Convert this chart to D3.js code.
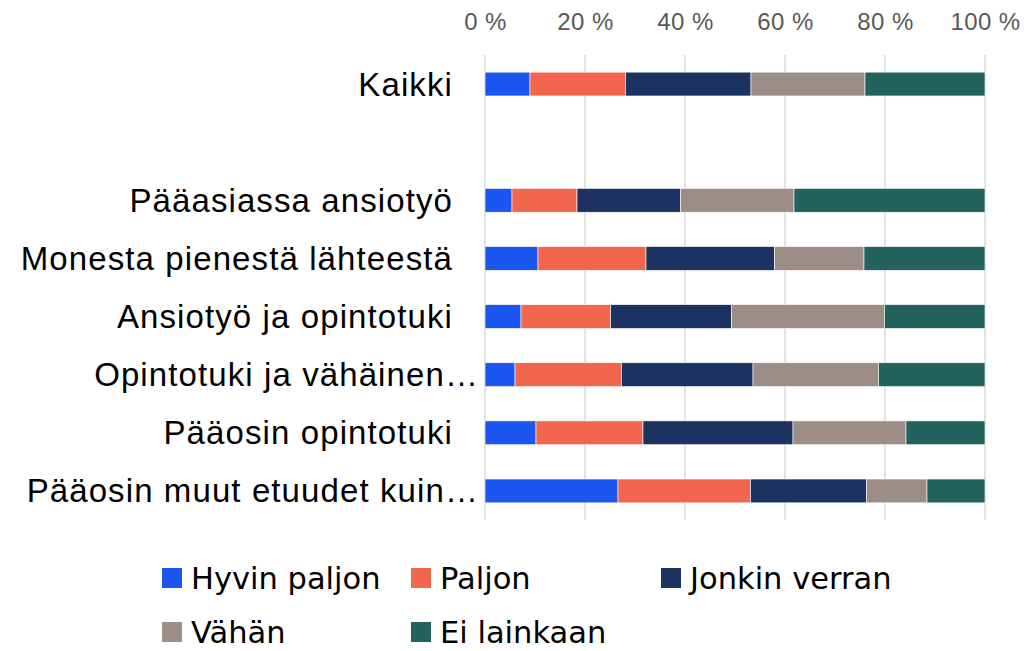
<!DOCTYPE html>
<html>
<head>
<meta charset="utf-8">
<script src="https://cdn.jsdelivr.net/npm/d3@7"></script>
<style>
  body { margin: 0; background: #fff; }
  svg text { font-family: "Liberation Sans", Arial, sans-serif; }
  svg .legend text { font-family: "DejaVu Sans", Verdana, sans-serif; }
</style>
</head>
<body>
<svg id="chart" width="1026" height="651"></svg>
<script>
var categories = [
  "Kaikki",
  "",
  "Pääasiassa ansiotyö",
  "Monesta pienestä lähteestä",
  "Ansiotyö ja opintotuki",
  "Opintotuki ja vähäinen…",
  "Pääosin opintotuki",
  "Pääosin muut etuudet kuin…"
];
var seriesNames = ["Hyvin paljon", "Paljon", "Jonkin verran", "Vähän", "Ei lainkaan"];
var seriesColors = ["#1a56ef", "#f2664d", "#1c3260", "#9c8d86", "#23635d"];

// percentages per category, one array per series (blank row = 0)
var hyvinPaljon  = [9.0, 0, 5.4, 10.6, 7.2, 6.0, 10.2, 26.6];
var paljon       = [19.1, 0, 13.0, 21.6, 17.9, 21.3, 21.4, 26.5];
var jonkinVerran = [25.1, 0, 20.7, 25.7, 24.2, 26.3, 30.0, 23.2];
var vahan        = [22.8, 0, 22.7, 17.9, 30.6, 25.1, 22.6, 12.1];
var eiLainkaan   = [24.0, 0, 38.2, 24.2, 20.1, 21.3, 15.8, 11.6];

var tickValues = [0, 20, 40, 60, 80, 100];

(function () {
  'use strict';

  var seriesData = [hyvinPaljon, paljon, jonkinVerran, vahan, eiLainkaan];

  var rows = categories.map(function (c, i) {
    var row = { key: "r" + i, name: c };
    seriesNames.forEach(function (s, j) { row[s] = seriesData[j][i]; });
    return row;
  });

  var svg = d3.select("#chart");

  var x = d3.scaleLinear().domain([0, 100]).range([485, 985]);
  var y = d3.scaleBand()
    .domain(rows.map(function (d) { return d.key; }))
    .range([55, 520])
    .paddingInner(0.59)
    .paddingOuter(0.295);

  var layers = d3.stack().keys(seriesNames)(rows);

  // gridlines
  svg.append("g")
    .selectAll("line")
    .data(tickValues)
    .enter().append("line")
      .attr("x1", function (d) { return x(d); })
      .attr("x2", function (d) { return x(d); })
      .attr("y1", 55)
      .attr("y2", 520)
      .attr("stroke", "#d9d9d9")
      .attr("stroke-width", 1.5);

  // top tick labels
  var axis = d3.axisTop(x)
    .tickValues(tickValues)
    .tickSize(0)
    .tickPadding(0)
    .tickFormat(function (d) { return d + " %"; });

  var axisG = svg.append("g")
    .attr("transform", "translate(0,30)")
    .call(axis);
  axisG.select(".domain").remove();
  axisG.selectAll("text")
    .attr("fill", "#595959")
    .attr("font-size", 24)
    .attr("letter-spacing", 0.4);

  // bars
  svg.append("g")
    .selectAll("g")
    .data(layers)
    .enter().append("g")
      .attr("fill", function (d, i) { return seriesColors[i]; })
    .selectAll("rect")
    .data(function (d) { return d.filter(function (p) { return p[1] - p[0] > 0; }); })
    .enter().append("rect")
      .attr("x", function (d) { return x(d[0]); })
      .attr("width", function (d) { return x(d[1]) - x(d[0]); })
      .attr("y", function (d) { return y(d.data.key); })
      .attr("height", y.bandwidth())
      .attr("stroke", "#ffffff")
      .attr("stroke-width", 0.6);

  // category labels
  svg.append("g")
    .selectAll("text")
    .data(rows)
    .enter().append("text")
      .attr("x", function (d) { return d.name.slice(-1) === "…" ? 479 : 453; })
      .attr("y", function (d) { return y(d.key) + y.bandwidth() / 2; })
      .attr("dy", "0.35em")
      .attr("text-anchor", "end")
      .attr("font-size", 33)
      .attr("letter-spacing", 1.1)
      .attr("fill", "#000")
      .text(function (d) { return d.name; });

  // legend
  var legendPos = [[162, 578], [411, 578], [661, 578], [162, 632], [411, 632]];
  var legend = svg.append("g")
    .attr("class", "legend")
    .selectAll("g")
    .data(seriesNames)
    .enter().append("g")
      .attr("transform", function (d, i) { return "translate(" + legendPos[i][0] + "," + legendPos[i][1] + ")"; });

  legend.append("rect")
    .attr("x", 0)
    .attr("y", -10)
    .attr("width", 20)
    .attr("height", 20)
    .attr("fill", function (d, i) { return seriesColors[i]; });

  legend.append("text")
    .attr("x", 29)
    .attr("y", 11)
    .attr("font-size", 30.5)
    .attr("fill", "#000")
    .text(function (d) { return d; });
})();
</script>
</body>
</html>
